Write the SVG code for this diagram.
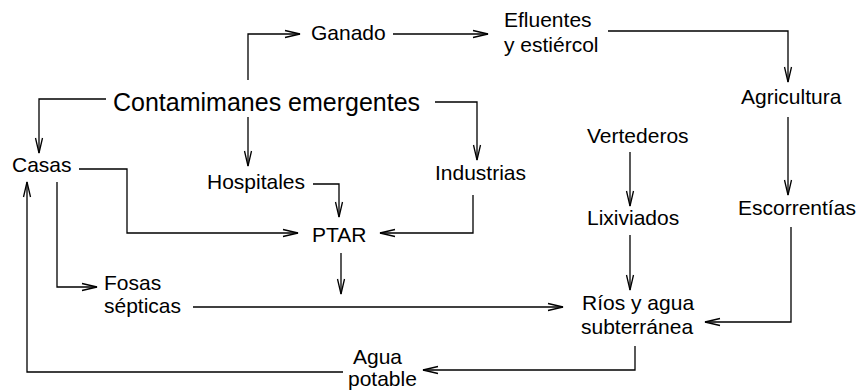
<svg xmlns="http://www.w3.org/2000/svg" width="859" height="391" viewBox="0 0 859 391">
<style>
text{font-family:"Liberation Sans",Arial,sans-serif;font-size:21px;fill:#000}
.big{font-size:25px}
.c path{fill:none;stroke:#000;stroke-width:1.3;marker-end:url(#ah)}
</style>
<defs>
<marker id="ah" markerUnits="userSpaceOnUse" markerWidth="18" markerHeight="10" refX="15" refY="4" orient="auto" overflow="visible">
<path d="M0,0.5 L15,4 L0,7.5" fill="none" stroke="#000" stroke-width="1.3"/>
</marker>
</defs>
<rect width="859" height="391" fill="#fff"/>
<g class="c" id="connectors">
<path d="M248,80 V34 H300"/>
<path d="M393,34 H488"/>
<path d="M608,31 H788 V82"/>
<path d="M788,117 V195"/>
<path d="M106,99 H39 V153"/>
<path d="M248,117 V166"/>
<path d="M435,102 H477 V160"/>
<path d="M79,169 H127 V233 H298"/>
<path d="M313,184 H339 V217"/>
<path d="M473,195 V233 H380"/>
<path d="M57,182 V287 H97"/>
<path d="M341,253 V294"/>
<path d="M193,307 H563"/>
<path d="M630,152 V206"/>
<path d="M630,235 V290"/>
<path d="M791,227 V322 H705"/>
<path d="M635,346 V370 H423"/>
<path d="M343,372 H27 V182"/>
</g>
<g id="ganado"><text x="311" y="40">Ganado</text></g>
<g id="efluentes"><text x="504" y="27">Efluentes</text><text x="504" y="52">y estiércol</text></g>
<g id="contaminantes"><text class="big" x="113" y="111">Contamimanes emergentes</text></g>
<g id="agricultura"><text x="741" y="104">Agricultura</text></g>
<g id="vertederos"><text x="587" y="143">Vertederos</text></g>
<g id="casas"><text x="12" y="172">Casas</text></g>
<g id="hospitales"><text x="207" y="189">Hospitales</text></g>
<g id="industrias"><text x="435" y="180">Industrias</text></g>
<g id="lixiviados"><text x="587" y="225">Lixiviados</text></g>
<g id="escorrentias"><text x="738" y="215">Escorrentías</text></g>
<g id="ptar"><text x="312" y="242">PTAR</text></g>
<g id="fosas"><text x="104" y="290">Fosas</text><text x="104" y="313">sépticas</text></g>
<g id="rios"><text x="582" y="310">Ríos y agua</text><text x="581" y="334">subterránea</text></g>
<g id="agua"><text x="353" y="364">Agua</text><text x="348" y="386">potable</text></g>
</svg>
